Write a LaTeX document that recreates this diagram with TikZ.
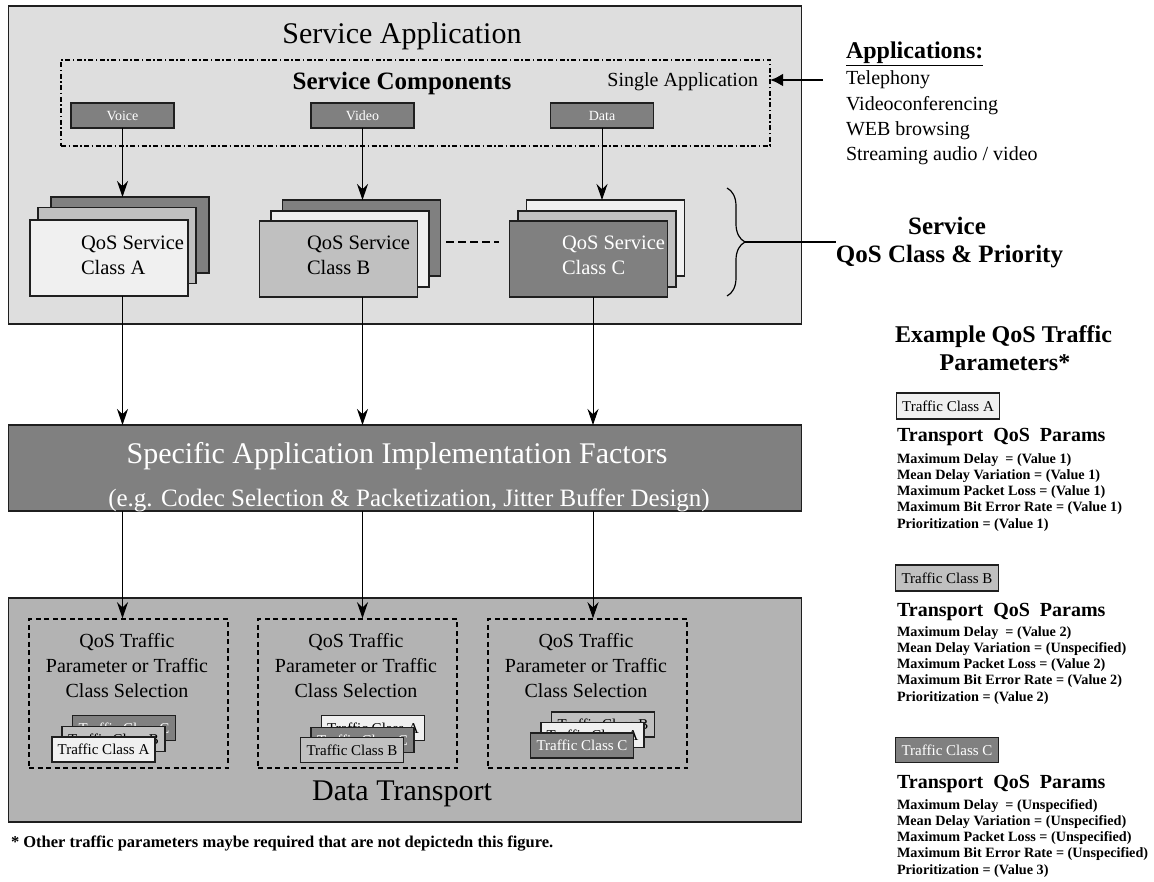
\documentclass[tikz,border=0pt]{standalone}
\usepackage{fontspec}
\setmainfont{Liberation Serif}
\usetikzlibrary{arrows.meta,decorations.pathreplacing}

\definecolor{panellight}{HTML}{DEDEDE}
\definecolor{panelmid}{HTML}{B3B3B3}
\definecolor{classA}{HTML}{F0F0F0}
\definecolor{classB}{HTML}{C0C0C0}
\definecolor{classC}{HTML}{808080}

\begin{document}
\begin{tikzpicture}[
  x = 1pt,
  y = -1pt,
  box/.style = {
    draw = black!88,
    line width = 1.4pt,
    inner sep = 0pt,
    outer sep = 0pt,
  },
  panel/.style = {
    box,
    line width = 1.8pt,
    minimum width = 793,
  },
  compbox/.style = {
    box,
    line width = 1.2pt,
    fill = classC,
    text = white,
    font = \fontsize{14}{14}\selectfont,
    minimum width = 103,
    minimum height = 25,
  },
  svcbox/.style = {
    box,
    minimum width = 158,
    minimum height = 76,
  },
  tcbox/.style = {
    box,
    line width = 1.1pt,
    font = \fontsize{15}{15}\selectfont,
    minimum width = 103,
    minimum height = 25,
  },
  selbox/.style = {
    draw = black,
    line width = 1.5pt,
    dash pattern = on 5pt off 3.5pt,
    inner sep = 0pt,
    minimum width = 199,
    minimum height = 149,
  },
  txt/.style = {
    inner sep = 0pt,
    outer sep = 0pt,
  },
  arr/.style = {
    line width = 1pt,
    -{Stealth[length=16pt, width=11pt]}
  },
]
  \path[use as bounding box, fill = white] (0,0) rectangle (1154,882);

  \node[panel, fill = panellight, minimum height = 318] (svcapp) at (405,165) {};
  \node[txt, anchor = base, font = \fontsize{30}{30}\selectfont] (apptitle) at (402,44) {Service Application};

  \node[txt, draw, line width = 1.2pt, dash pattern = on 5pt off 2.5pt on 1.5pt off 2.5pt,
    minimum width = 709, minimum height = 86] (comps) at (415.5,103) {};
  \node[txt, anchor = base, font = \fontsize{25}{25}\selectfont\bfseries] (compstitle) at (402,90) {Service Components};
  \node[txt, anchor = base east, font = \fontsize{20}{20}\selectfont] (single) at (758,87) {Single Application};

  \node[compbox] (voice) at (122.5,115.5) {Voice};
  \node[compbox] (video) at (362.5,115.5) {Video};
  \node[compbox] (data) at (602,115.5) {Data};

  \node[svcbox, fill = classC] (sa3) at (130,235) {};
  \node[svcbox, fill = classB] (sa2) at (117,245.5) {};
  \node[svcbox, fill = classA] (sa1) at (109,258) {};
  \node[svcbox, fill = classC] (sb3) at (361.5,238) {};
  \node[svcbox, fill = classA] (sb2) at (350,249) {};
  \node[svcbox, fill = classB] (sb1) at (338.5,259) {};
  \node[svcbox, fill = classA] (sc3) at (605.5,238) {};
  \node[svcbox, fill = classB] (sc2) at (597,249) {};
  \node[svcbox, fill = classC] (sc1) at (588.5,259) {};

  \node[txt, anchor = base west, font = \fontsize{20.5}{20.5}\selectfont] (sa1a) at (81,249.5) {QoS Service};
  \node[txt, anchor = base west, font = \fontsize{20.5}{20.5}\selectfont] (sa1b) at (81,275) {Class A};
  \node[txt, anchor = base west, font = \fontsize{20.5}{20.5}\selectfont] (sb1a) at (307,249.5) {QoS Service};
  \node[txt, anchor = base west, font = \fontsize{20.5}{20.5}\selectfont] (sb1b) at (307,275) {Class B};
  \node[txt, anchor = base west, text = white, font = \fontsize{20.5}{20.5}\selectfont] (sc1a) at (562,249.5) {QoS Service};
  \node[txt, anchor = base west, text = white, font = \fontsize{20.5}{20.5}\selectfont] (sc1b) at (562,275) {Class C};

  \coordinate (gapl) at (446,242);
  \coordinate (gapr) at (499,242);
  \draw[line width = 1.3pt, dash pattern = on 8pt off 4pt] (gapl) -- (gapr);

  \draw[arr] (voice) -- (voice |- sa3.north);
  \draw[arr] (video) -- (video |- sb3.north);
  \draw[arr] (data) -- (data |- sc3.north);

  \coordinate (brtop) at (727,188);
  \coordinate (brbot) at (727,296);
  \coordinate (brtip) at (745,242);
  \draw[line width = 1.2pt, decorate, decoration = {brace, amplitude = 18pt}] (brtop) -- (brbot);

  \node[panel, fill = classC, minimum height = 86] (spec) at (405,468) {};
  \node[txt, anchor = base, text = white, font = \fontsize{30}{30}\selectfont] (spec1) at (397,463)
    {Specific Application Implementation Factors};
  \node[txt, anchor = base, text = white, font = \fontsize{25}{25}\selectfont] (spec2) at (409,506)
    {(e.g. Codec Selection \& Packetization, Jitter Buffer Design)};

  \draw[arr] (voice |- sa1.south) -- (voice |- spec.north);
  \draw[arr] (video |- sb1.south) -- (video |- spec.north);
  \draw[arr] ([xshift = 4.5pt]sc1.south) -- ([xshift = 4.5pt]sc1.south |- spec.north);

  \node[panel, fill = panelmid, minimum height = 224] (trans) at (405,710) {};
  \node[selbox] (sela) at (128.5,693.5) {};
  \node[selbox] (selb) at (357.5,693.5) {};
  \node[selbox] (selc) at (587.5,693.5) {};

  \draw[arr] (voice |- spec.south) -- (voice |- sela.north);
  \draw[arr] (video |- spec.south) -- (video |- selb.north);
  \draw[arr] ([xshift = 4.5pt]sc1.south |- spec.south) -- ([xshift = 4.5pt]sc1.south |- selc.north);

  \node[txt, align = center, font = \fontsize{20}{25}\selectfont] (selat) at (127,666)
    {QoS Traffic\\Parameter or Traffic\\Class Selection};
  \node[txt, align = center, font = \fontsize{20}{25}\selectfont] (selbt) at (356,666)
    {QoS Traffic\\Parameter or Traffic\\Class Selection};
  \node[txt, align = center, font = \fontsize{20}{25}\selectfont] (selct) at (586,666)
    {QoS Traffic\\Parameter or Traffic\\Class Selection};

  \node[tcbox, fill = classC, text = white] (ta3) at (124,728) {Traffic Class C};
  \node[tcbox, fill = classB] (ta2) at (113.5,739) {Traffic Class B};
  \node[tcbox, fill = classA] (ta1) at (103.5,749.5) {Traffic Class A};
  \node[tcbox, fill = classA] (tb3) at (373,728) {Traffic Class A};
  \node[tcbox, fill = classC, text = white] (tb2) at (362.5,740) {Traffic Class C};
  \node[tcbox, fill = classB] (tb1) at (352,750) {Traffic Class B};
  \node[tcbox, fill = classB] (tc3) at (603,724.5) {Traffic Class B};
  \node[tcbox, fill = classA] (tc2) at (592.5,735) {Traffic Class A};
  \node[tcbox, fill = classC, text = white] (tc1) at (582,745.5) {Traffic Class C};

  \node[txt, anchor = base, font = \fontsize{30}{30}\selectfont] (transtitle) at (402,800) {Data Transport};
  \node[txt, anchor = base west, font = \fontsize{16.5}{16.5}\selectfont\bfseries] (note) at (11,847)
    {* Other traffic parameters maybe required that are not depictedn this figure.};

  \node[txt, anchor = base west, font = \fontsize{24}{24}\selectfont\bfseries] (appshead) at (846,59) {\underline{Applications:}};
  \foreach \app [count = \i] in {Telephony, Videoconferencing, WEB browsing, Streaming audio / video}
    \node[txt, anchor = base west, font = \fontsize{20}{20}\selectfont] (appl\i) at (846,59.7+25.3*\i) {\app};
  \coordinate (appfeed) at (823,80);
  \draw[line width = 2.6pt, -{Latex[length=13pt, width=13pt]}] (appfeed) -- (appfeed -| comps.east);

  \node[txt, anchor = base, font = \fontsize{25}{25}\selectfont\bfseries] (svchead) at (947,235) {Service};
  \node[txt, anchor = base, font = \fontsize{25}{25}\selectfont\bfseries] (sqos) at (949.5,263) {QoS Class \& Priority};
  \draw[line width = 1.2pt] (brtip) -- (brtip -| sqos.west);

  \node[txt, anchor = base, font = \fontsize{24}{24}\selectfont\bfseries] (exhead) at (1003.5,343) {Example QoS Traffic};
  \node[txt, anchor = base, font = \fontsize{24}{24}\selectfont\bfseries] (exhead2) at (1005,371) {Parameters*};

  \node[tcbox, fill = classA, minimum height = 26] (tca) at (948,406) {Traffic Class A};
  \node[txt, anchor = base west, font = \fontsize{20}{20}\selectfont\bfseries] (tpa) at (897,441) {Transport\ \ QoS\ \ Params};
  \foreach \val [count = \i] in {Maximum Delay\ \ = (Value 1), Mean Delay Variation = (Value 1),
      Maximum Packet Loss = (Value 1), Maximum Bit Error Rate = (Value 1), Prioritization = (Value 1)}
    \node[txt, anchor = base west, font = \fontsize{14.2}{14.2}\selectfont\bfseries] (pa\i) at (897,446.7+16.3*\i) {\val};

  \node[tcbox, fill = classB, minimum height = 26] (tcb) at (947,578) {Traffic Class B};
  \node[txt, anchor = base west, font = \fontsize{20}{20}\selectfont\bfseries] (tpb) at (897,616) {Transport\ \ QoS\ \ Params};
  \foreach \val [count = \i] in {Maximum Delay\ \ = (Value 2), Mean Delay Variation = (Unspecified),
      Maximum Packet Loss = (Value 2), Maximum Bit Error Rate = (Value 2), Prioritization = (Value 2)}
    \node[txt, anchor = base west, font = \fontsize{14.2}{14.2}\selectfont\bfseries] (pb\i) at (897,619.7+16.3*\i) {\val};

  \node[tcbox, fill = classC, text = white] (tcc) at (947,750) {Traffic Class C};
  \node[txt, anchor = base west, font = \fontsize{20}{20}\selectfont\bfseries] (tpc) at (897,788) {Transport\ \ QoS\ \ Params};
  \foreach \val [count = \i] in {Maximum Delay\ \ = (Unspecified), Mean Delay Variation = (Unspecified),
      Maximum Packet Loss = (Unspecified), Maximum Bit Error Rate = (Unspecified), Prioritization = (Value 3)}
    \node[txt, anchor = base west, font = \fontsize{14.2}{14.2}\selectfont\bfseries] (pc\i) at (897,792.7+16.3*\i) {\val};
\end{tikzpicture}
\end{document}
